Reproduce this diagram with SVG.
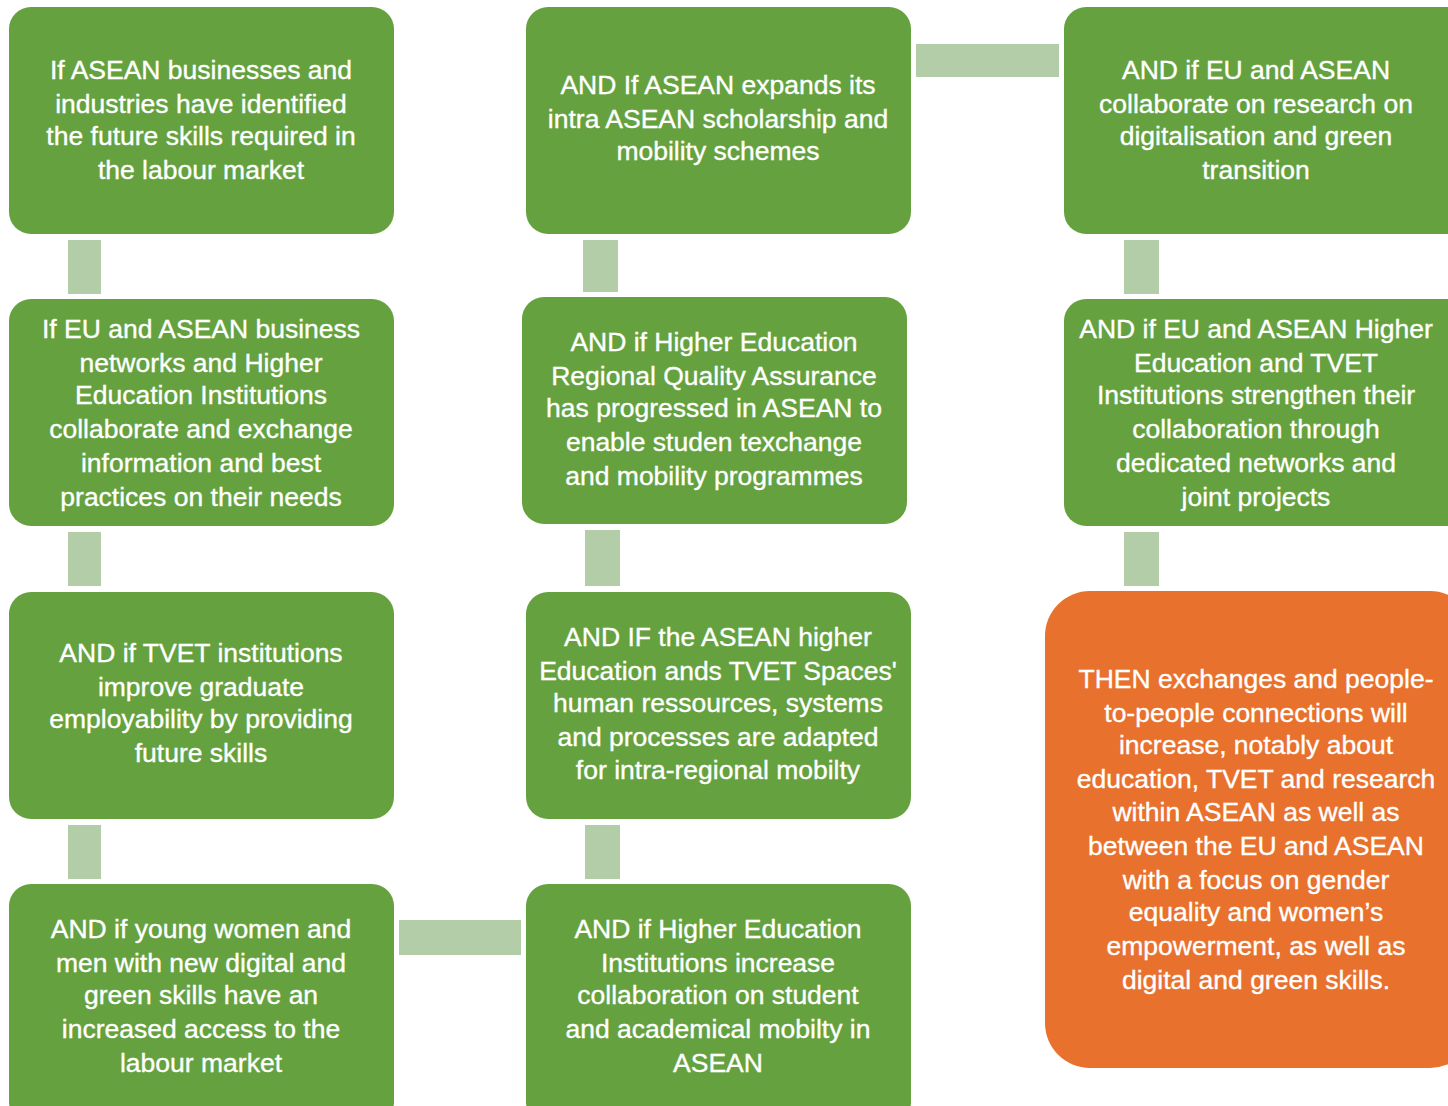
<svg xmlns="http://www.w3.org/2000/svg" width="1448" height="1106" viewBox="0 0 1448 1106">
<style>
.box{fill:#65A23F}
.out{fill:#E8712D}
.con{fill:#B3CDA8}
text{font-family:"Liberation Sans",Arial,sans-serif;font-size:26.5px;fill:#ffffff;stroke:#ffffff;stroke-width:0.35;text-anchor:middle}
</style>
<rect width="1448" height="1106" fill="#ffffff"/>
<g id="connectors">
<rect class="con" x="68" y="240" width="33" height="54"/>
<rect class="con" x="68" y="532" width="33" height="54"/>
<rect class="con" x="68" y="825" width="33" height="54"/>
<rect class="con" x="583" y="240" width="35" height="52"/>
<rect class="con" x="585" y="530" width="35" height="56"/>
<rect class="con" x="585" y="825" width="35" height="54"/>
<rect class="con" x="1124" y="240" width="35" height="54"/>
<rect class="con" x="1124" y="532" width="35" height="54"/>
<rect class="con" x="916" y="44" width="143" height="33"/>
<rect class="con" x="399" y="920" width="122" height="35"/>
</g>
<g id="n1">
<rect class="box" x="9" y="7" width="385" height="227" rx="22"/>
<text x="201" y="79">If ASEAN businesses and</text>
<text x="201" y="113">industries have identified</text>
<text x="201" y="145">the future skills required in</text>
<text x="201" y="179">the labour market</text>
</g>
<g id="n2">
<rect class="box" x="9" y="299" width="385" height="227" rx="22"/>
<text x="201" y="338">If EU and ASEAN business</text>
<text x="201" y="372">networks and Higher</text>
<text x="201" y="404">Education Institutions</text>
<text x="201" y="438">collaborate and exchange</text>
<text x="201" y="472">information and best</text>
<text x="201" y="506">practices on their needs</text>
</g>
<g id="n3">
<rect class="box" x="9" y="592" width="385" height="227" rx="22"/>
<text x="201" y="662">AND if TVET institutions</text>
<text x="201" y="696">improve graduate</text>
<text x="201" y="728">employability by providing</text>
<text x="201" y="762">future skills</text>
</g>
<g id="n4">
<rect class="box" x="9" y="884" width="385" height="240" rx="22"/>
<text x="201" y="938">AND if young women and</text>
<text x="201" y="972">men with new digital and</text>
<text x="201" y="1004">green skills have an</text>
<text x="201" y="1038">increased access to the</text>
<text x="201" y="1072">labour market</text>
</g>
<g id="n5">
<rect class="box" x="526" y="7" width="385" height="227" rx="22"/>
<text x="718" y="94">AND If ASEAN expands its</text>
<text x="718" y="128">intra ASEAN scholarship and</text>
<text x="718" y="160">mobility schemes</text>
</g>
<g id="n6">
<rect class="box" x="522" y="297" width="385" height="227" rx="22"/>
<text x="714" y="351">AND if Higher Education</text>
<text x="714" y="385">Regional Quality Assurance</text>
<text x="714" y="417">has progressed in ASEAN to</text>
<text x="714" y="451">enable studen texchange</text>
<text x="714" y="485">and mobility programmes</text>
</g>
<g id="n7">
<rect class="box" x="526" y="592" width="385" height="227" rx="22"/>
<text x="718" y="646">AND IF the ASEAN higher</text>
<text x="718" y="680">Education ands TVET Spaces'</text>
<text x="718" y="712">human ressources, systems</text>
<text x="718" y="746">and processes are adapted</text>
<text x="718" y="779">for intra-regional mobilty</text>
</g>
<g id="n8">
<rect class="box" x="526" y="884" width="385" height="240" rx="22"/>
<text x="718" y="938">AND if Higher Education</text>
<text x="718" y="972">Institutions increase</text>
<text x="718" y="1004">collaboration on student</text>
<text x="718" y="1038">and academical mobilty in</text>
<text x="718" y="1072">ASEAN</text>
</g>
<g id="n9">
<rect class="box" x="1064" y="7" width="410" height="227" rx="22"/>
<text x="1256" y="79">AND if EU and ASEAN</text>
<text x="1256" y="113">collaborate on research on</text>
<text x="1256" y="145">digitalisation and green</text>
<text x="1256" y="179">transition</text>
</g>
<g id="n10">
<rect class="box" x="1064" y="299" width="410" height="227" rx="22"/>
<text x="1256" y="338">AND if EU and ASEAN Higher</text>
<text x="1256" y="372">Education and TVET</text>
<text x="1256" y="404">Institutions strengthen their</text>
<text x="1256" y="438">collaboration through</text>
<text x="1256" y="472">dedicated networks and</text>
<text x="1256" y="506">joint projects</text>
</g>
<g id="n11">
<rect class="out" x="1045" y="591" width="430" height="477" rx="45"/>
<text x="1256" y="688">THEN exchanges and people-</text>
<text x="1256" y="722">to-people connections will</text>
<text x="1256" y="754">increase, notably about</text>
<text x="1256" y="788">education, TVET and research</text>
<text x="1256" y="821">within ASEAN as well as</text>
<text x="1256" y="855">between the EU and ASEAN</text>
<text x="1256" y="889">with a focus on gender</text>
<text x="1256" y="921">equality and women’s</text>
<text x="1256" y="955">empowerment, as well as</text>
<text x="1256" y="989">digital and green skills.</text>
</g>
</svg>
